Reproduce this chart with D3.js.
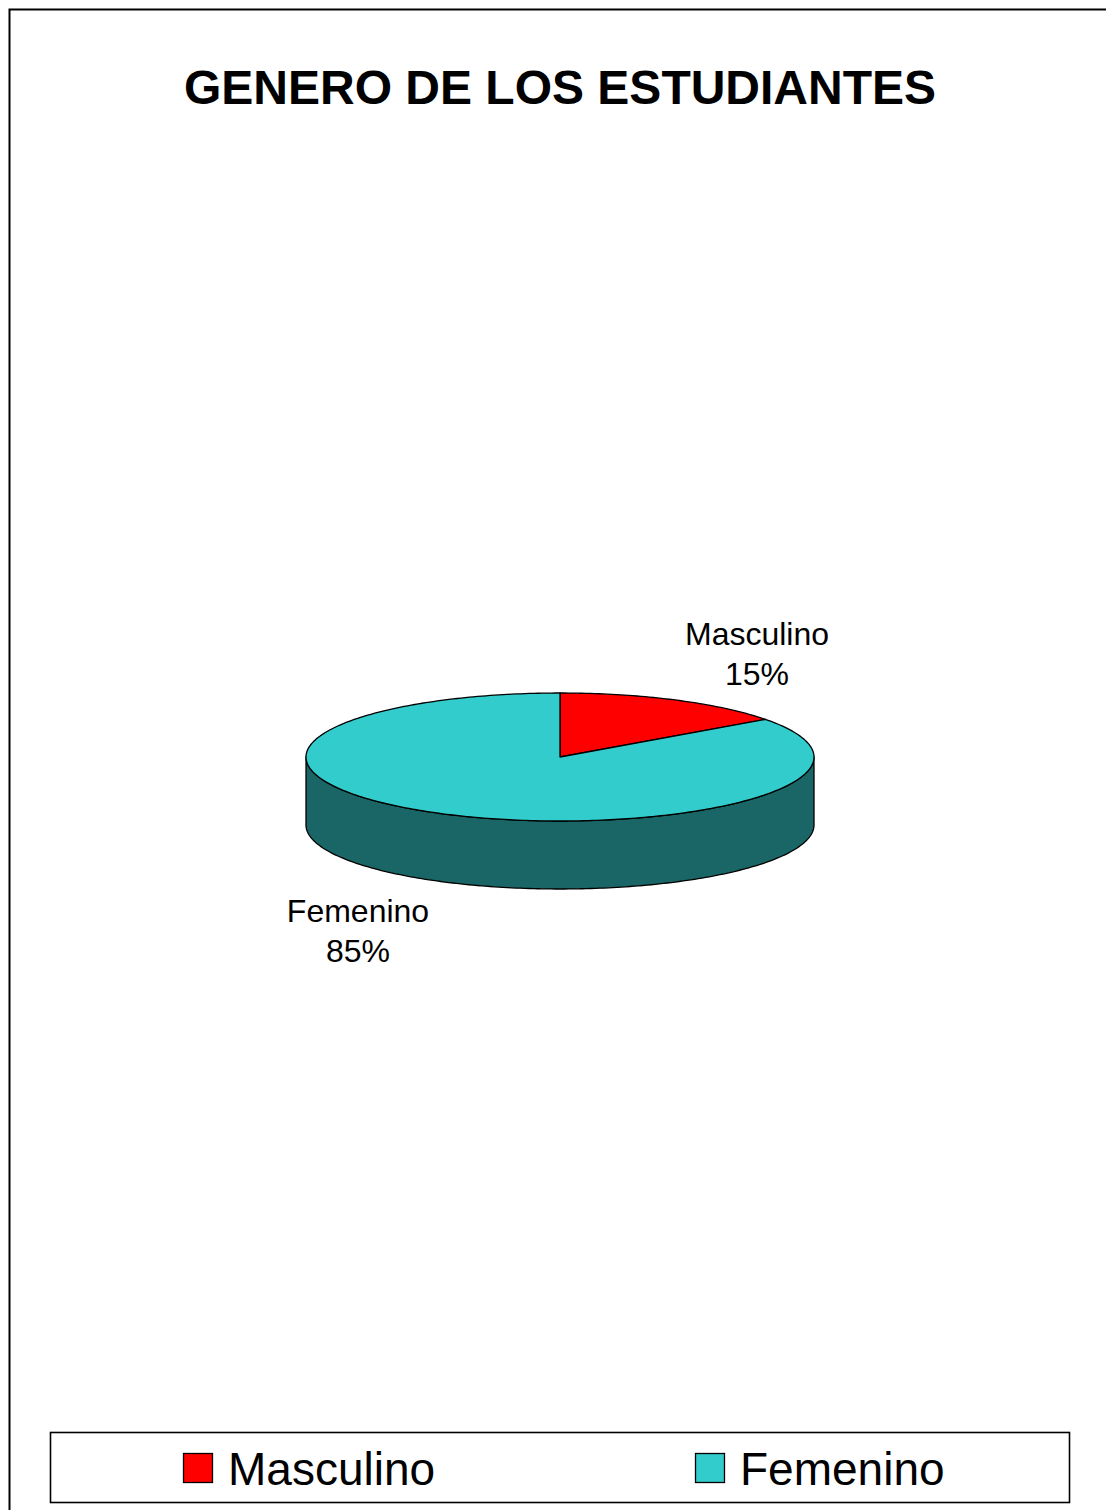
<!DOCTYPE html>
<html>
<head>
<meta charset="utf-8">
<script src="https://cdn.jsdelivr.net/npm/d3@7"></script>
<style>
html,body{margin:0;padding:0;background:#fff;}
svg{display:block;}
</style>
</head>
<body>
<svg id="chart" width="1106" height="1510"></svg>
<script>
const title = "GENERO DE LOS ESTUDIANTES";
const categories = ["Masculino", "Femenino"];
const values = [15, 85];
const percentLabels = ["15%", "85%"];
const topColors = ["#FF0000", "#33CCCC"];
const sideColors = ["#800000", "#1A6666"];

const svg = d3.select("#chart");
const W = 1106, H = 1510;
svg.append("rect").attr("width", W).attr("height", H).attr("fill", "#fff");

// outer frame (left and top edges visible)
svg.append("path")
  .attr("d", `M9.5,${H} L9.5,9.5 L${W},9.5`)
  .attr("fill", "none").attr("stroke", "#000").attr("stroke-width", 2);

// title
svg.append("text")
  .attr("x", 560).attr("y", 104)
  .attr("text-anchor", "middle")
  .attr("font-family", "Arial, 'Liberation Sans', sans-serif")
  .attr("font-weight", "bold")
  .attr("font-size", 48)
  .attr("fill", "#000")
  .text(title);

// 3D pie geometry
const cx = 560, cy = 757, rx = 254, ry = 64, depth = 68;
const pie = d3.pie().sort(null).value(d => d)
  .startAngle(0).endAngle(2 * Math.PI);
const arcs = pie(values);

const pt = (a, dy = 0) => [cx + rx * Math.sin(a), cy - ry * Math.cos(a) + dy];

function ellipsePoints(a0, a1, dy) {
  const n = Math.max(2, Math.ceil(Math.abs(a1 - a0) / (Math.PI / 180)));
  const pts = [];
  for (let i = 0; i <= n; i++) pts.push(pt(a0 + (a1 - a0) * i / n, dy));
  return pts;
}
const line = d3.line();

const g = svg.append("g");

// sides (front half only: angles between PI/2 and 3PI/2)
arcs.forEach((d, i) => {
  const a0 = Math.max(d.startAngle, Math.PI / 2);
  const a1 = Math.min(d.endAngle, 3 * Math.PI / 2);
  if (a1 <= a0) return;
  const topPts = ellipsePoints(a0, a1, 0);
  const botPts = ellipsePoints(a1, a0, depth);
  g.append("path")
    .attr("d", line(topPts.concat(botPts)) + "Z")
    .attr("fill", sideColors[i])
    .attr("stroke", "#000").attr("stroke-width", 1.3)
    .attr("stroke-linejoin", "round");
});

// tops
arcs.forEach((d, i) => {
  const pts = [[cx, cy]].concat(ellipsePoints(d.startAngle, d.endAngle, 0));
  g.append("path")
    .attr("d", line(pts) + "Z")
    .attr("fill", topColors[i])
    .attr("stroke", "#000").attr("stroke-width", 1.3)
    .attr("stroke-linejoin", "round");
});

// data labels
const labelPos = [[757, 645], [358, 922]];
arcs.forEach((d, i) => {
  const t = svg.append("text")
    .attr("text-anchor", "middle")
    .attr("font-family", "Arial, 'Liberation Sans', sans-serif")
    .attr("font-size", 32)
    .attr("fill", "#000");
  t.append("tspan").attr("x", labelPos[i][0]).attr("y", labelPos[i][1]).text(categories[i]);
  t.append("tspan").attr("x", labelPos[i][0]).attr("y", labelPos[i][1] + 40).text(percentLabels[i]);
});

// legend
svg.append("rect")
  .attr("x", 50.5).attr("y", 1432.5).attr("width", 1019).attr("height", 70)
  .attr("fill", "#fff").attr("stroke", "#000").attr("stroke-width", 1.6);
const legendX = [183, 695];
categories.forEach((c, i) => {
  svg.append("rect")
    .attr("x", legendX[i] + 0.5).attr("y", 1453.5).attr("width", 29).attr("height", 29)
    .attr("fill", topColors[i]).attr("stroke", "#000").attr("stroke-width", 1.3);
  svg.append("text")
    .attr("x", legendX[i] + 45).attr("y", 1485)
    .attr("font-family", "Arial, 'Liberation Sans', sans-serif")
    .attr("font-size", 46)
    .attr("fill", "#000")
    .text(c);
});
</script>
</body>
</html>
